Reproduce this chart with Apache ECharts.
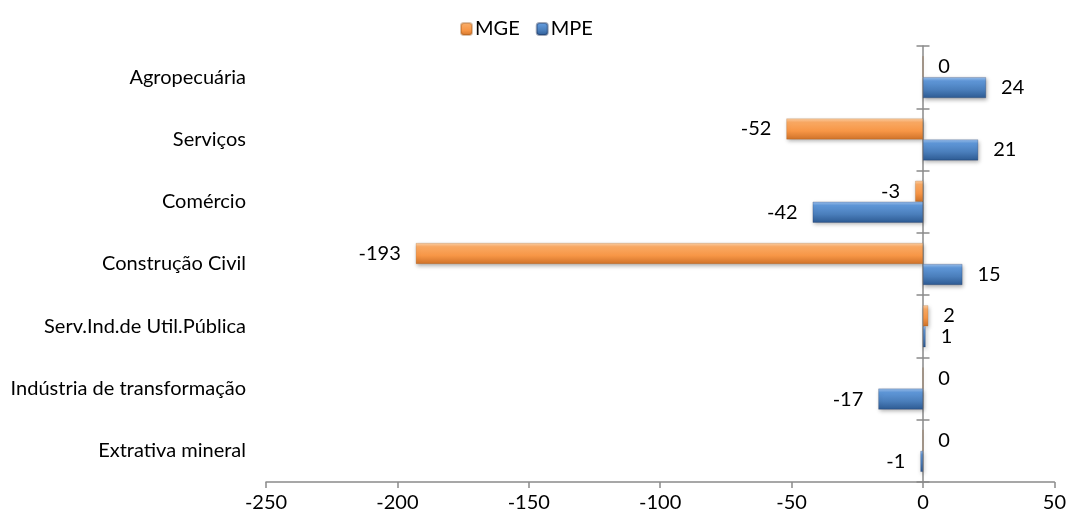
<!DOCTYPE html>
<html>
<head>
<meta charset="utf-8">
<script src="https://cdn.jsdelivr.net/npm/echarts@6/dist/echarts.min.js"></script>
<style>
html,body{margin:0;padding:0;background:#fff;}
#chart{width:1069px;height:518px;}
</style>
</head>
<body>
<div id="chart"></div>
<script>
// Categories listed top to bottom as in the picture
const categories = ['Agropecuária', 'Serviços', 'Comércio', 'Construção Civil', 'Serv.Ind.de Util.Pública', 'Indústria de transformação', 'Extrativa mineral'];
const mgeValues = [0, -52, -3, -193, 2, 0, 0];
const mpeValues = [24, 21, -42, 15, 1, -17, -1];
const seriesNames = ['MGE', 'MPE'];
const xTicks = { min: -250, max: 50, interval: 50 };

const FONT = 'Lato';
const FS = 20;
const axisGray = '#8a8a8a';

function grad(stops) {
  return new echarts.graphic.LinearGradient(0, 0, 0, 1, stops.map(s => ({ offset: s[0], color: s[1] })));
}
const orange = grad([[0, '#fcd0a6'], [0.18, '#f9a963'], [0.6, '#f79646'], [1, '#cf7229']]);
const blue = grad([[0, '#9cc0ec'], [0.18, '#5f97d8'], [0.6, '#4a7ebb'], [1, '#2d5a92']]);

function items(vals) {
  return vals.map(v => ({ value: v, label: { position: v < 0 ? 'left' : 'right' } }));
}

const labelStyle = { show: true, fontFamily: FONT, fontSize: FS, color: '#000', distance: 15 };
const barCommon = {
  type: 'bar', yAxisIndex: 0, barWidth: 21, barGap: '0%',
  label: labelStyle
};

const chart = echarts.init(document.getElementById('chart'), null, { renderer: 'canvas' });
chart.setOption({
  animation: false,
  backgroundColor: '#fff',
  textStyle: { fontFamily: FONT },
  legend: {
    data: seriesNames,
    left: 455, top: 14,
    itemWidth: 11, itemHeight: 12, itemGap: 16,
    textStyle: { fontFamily: FONT, fontSize: FS, color: '#000', padding: [0, 0, 0, -2] }
  },
  grid: { left: 266, right: 12, top: 46, bottom: 36, containLabel: false },
  xAxis: {
    type: 'value', min: xTicks.min, max: xTicks.max, interval: xTicks.interval,
    axisLine: { show: true, lineStyle: { color: axisGray, width: 1.5 } },
    axisTick: { show: true, length: 6, lineStyle: { color: axisGray, width: 1.5 } },
    splitLine: { show: false },
    axisLabel: { fontFamily: FONT, fontSize: FS, color: '#000', margin: 11 }
  },
  yAxis: [
    {
      type: 'category', data: categories, inverse: true, position: 'left',
      axisLine: { show: false, onZero: false },
      axisTick: { show: false },
      axisLabel: { fontFamily: FONT, fontSize: FS, color: '#000', margin: 20 }
    },
    {
      type: 'category', data: categories, inverse: true, position: 'left',
      axisLine: { show: true, onZero: true, onZeroAxisIndex: 0, lineStyle: { color: axisGray, width: 1.5 } },
      axisTick: { show: true, length: 6.5, lineStyle: { color: axisGray, width: 1.5 } },
      axisLabel: { show: false }
    },
    {
      type: 'category', data: categories, inverse: true, position: 'right',
      axisLine: { show: false, onZero: true, onZeroAxisIndex: 0 },
      axisTick: { show: true, length: 6.5, lineStyle: { color: axisGray, width: 1.5 } },
      axisLabel: { show: false }
    }
  ],
  series: [
    Object.assign({}, barCommon, {
      name: seriesNames[0], data: items(mgeValues),
      itemStyle: { color: orange, borderColor: 'rgba(150,80,20,0.35)', borderWidth: 0.6,
        shadowBlur: 4, shadowOffsetX: 1, shadowOffsetY: 2, shadowColor: 'rgba(0,0,0,0.3)' }
    }),
    Object.assign({}, barCommon, {
      name: seriesNames[1], data: items(mpeValues),
      itemStyle: { color: blue, borderColor: 'rgba(20,40,80,0.4)', borderWidth: 0.6,
        shadowBlur: 4, shadowOffsetX: 1, shadowOffsetY: 2, shadowColor: 'rgba(0,0,0,0.3)' }
    })
  ]
});
</script>
</body>
</html>
